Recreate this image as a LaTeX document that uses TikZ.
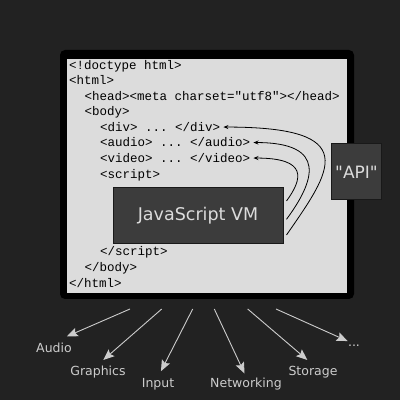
\documentclass[tikz,border=0pt]{standalone}
\usepackage{fontspec}
\setmainfont{DejaVu Sans}[Ligatures=TeXOff]
\setmonofont{Liberation Mono}
\usetikzlibrary{arrows.meta}

\definecolor{bgdark}{HTML}{222222}
\definecolor{panel}{HTML}{DCDCDC}
\definecolor{boxgray}{HTML}{3C3C3C}
\definecolor{labelgray}{HTML}{CCCCCC}

\begin{document}
\begin{tikzpicture}[x=1pt, y=1pt,
  code/.style={anchor=base west, inner xsep=3pt, inner ysep=1pt, font=\fontsize{12.5}{15}\ttfamily},
  darkbox/.style={draw=black!90, line width=1pt, fill=boxgray, text=panel, inner sep=0pt},
  outlabel/.style={anchor=base, inner sep=1pt, text=labelgray, font=\fontsize{12.5}{15}\selectfont},
  call/.style={-{Stealth[length=5pt,width=4pt]}, black, line width=0.8pt},
  feed/.style={-{Stealth[length=11pt,width=9pt,inset=2pt]}, labelgray, line width=0.9pt}]

  % background and page frame
  \fill[bgdark] (0,0) rectangle (400,400);
  \useasboundingbox (0,0) rectangle (400,400);
  \fill[black, rounded corners=5pt] (60,101) rectangle (354,350);
  \fill[panel] (67,107) rectangle (347,341);

  % the html source
  \node[code] (doctype)   at (66,330.5)  {<!doctype html>};
  \node[code] (html)      at (66,315)    {<html>};
  \node[code] (head)      at (81.5,299.5){<head><meta charset="utf8"></head>};
  \node[code] (body)      at (81.5,284)  {<body>};
  \node[code] (div)       at (97,268.5)  {<div> ... </div>};
  \node[code] (audio)     at (97,253)    {<audio> ... </audio>};
  \node[code] (video)     at (97,237.5)  {<video> ... </video>};
  \node[code] (script)    at (97,222)    {<script>};
  \node[code] (scriptend) at (97,144)    {</script>};
  \node[code] (bodyend)   at (81.5,128.5){</body>};
  \node[code] (htmlend)   at (66,113)    {</html>};

  \node[darkbox, minimum width=170pt, minimum height=56pt,
        font=\fontsize{17.5}{21}\selectfont] (vm) at (198,184) {JavaScript VM};
  \node[darkbox, minimum width=50pt, minimum height=56pt,
        font=\fontsize{17}{20}\selectfont] (api) at (356.5,228) {"API"};

  % calls from the VM into the page
  \draw[call] ([shift={(3,-19)}]vm.east) .. controls +(45,65) and +(140,0) .. (div.east);
  \draw[call] ([shift={(3,-3.3)}]vm.east) .. controls +(28,38) and +(75,0) .. (audio.east);
  \draw[call] ([shift={(3,15)}]vm.east) .. controls +(16,22) and +(55,0) .. (video.east);

  % what the browser offers underneath
  \coordinate (f1) at (130,91);
  \coordinate (f2) at (161.7,91);
  \coordinate (f3) at (192.7,91);
  \coordinate (f4) at (214.3,91);
  \coordinate (f5) at (247.7,91);
  \coordinate (f6) at (276,91);

  \node[outlabel] (sound)   at (54,47.3)   {Audio};
  \node[outlabel] (gfx)     at (98,24.7)   {Graphics};
  \node[outlabel] (input)   at (158,12.7)  {Input};
  \node[outlabel] (net)     at (246,12.7)  {Networking};
  \node[outlabel] (storage) at (313,24.7)  {Storage};
  \node[outlabel] (more)    at (354,53.3)  {...};

  \draw[feed, shorten >=14pt]  (f1) -- (sound.north);
  \draw[feed, shorten >=7pt]   (f2) -- (gfx.north);
  \draw[feed, shorten >=6.5pt] (f3) -- (input.north);
  \draw[feed, shorten >=3.5pt] (f4) -- (net.north);
  \draw[feed, shorten >=7.5pt] (f5) -- (storage.north);
  \draw[feed, shorten >=7pt]   (f6) -- (more.north);
\end{tikzpicture}
\end{document}
